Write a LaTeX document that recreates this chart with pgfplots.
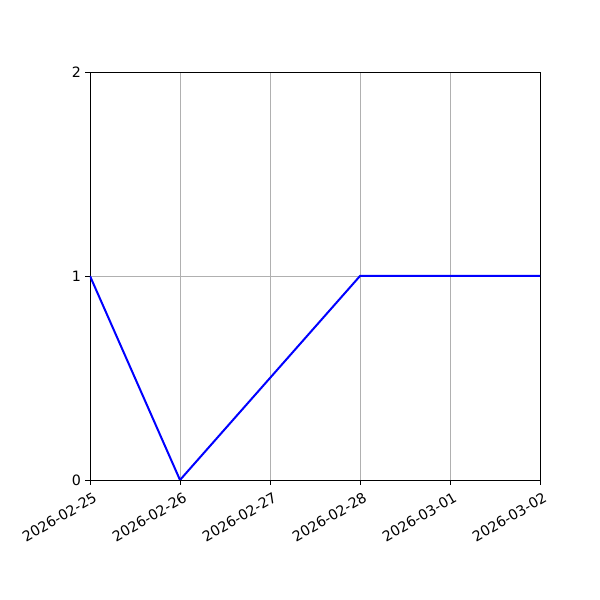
\documentclass[border=0pt]{standalone}
\usepackage{fontspec}
\setmainfont{DejaVu Sans}
\usepackage{pgfplots}
\pgfplotsset{compat=1.18}
\usetikzlibrary{calc}
\begin{document}
\begin{tikzpicture}[x=1bp,y=1bp]
\begin{axis}[
    scale only axis,
    width=450bp, height=408bp,
    xmin=0, xmax=5, ymin=0, ymax=2,
    xtick={0,1,2,3,4,5},
    xticklabels={2026-02-25,2026-02-26,2026-02-27,2026-02-28,2026-03-01,2026-03-02},
    ytick={0,1,2},
    tick pos=left,
    xticklabel style={rotate=30, anchor=north east, inner sep=1bp, yshift=-6bp},
    yticklabel style={inner sep=1bp, xshift=-3bp},
    tick label style={font=\fontsize{14.3}{16}\selectfont},
    /pgf/number format/assume math mode=true,
    tick align=outside,
    major tick length=4.9bp,
    every tick/.style={black, line width=0.9bp},
    axis line style={line width=0.9bp},
    grid=major,
    major grid style={color=black!31, line width=0.9bp},
]
\addplot[color=blue, line width=2bp] coordinates {(0,1) (1,0) (2,0.5) (3,1) (4,1) (5,1)};
\coordinate (ll) at (rel axis cs:0,0);
\coordinate (ur) at (rel axis cs:1,1);
\end{axis}
\pgfresetboundingbox
\path[use as bounding box] ($(ll)+(-90bp,-120bp)$) rectangle ($(ur)+(60bp,72bp)$);
\end{tikzpicture}
\end{document}
